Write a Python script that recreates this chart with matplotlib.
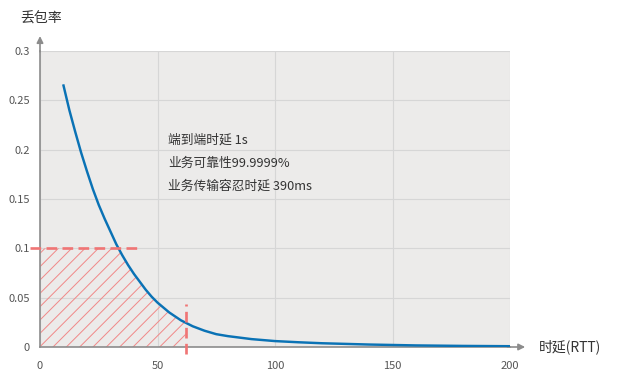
import numpy as np
import matplotlib
matplotlib.use('Agg')
import matplotlib.pyplot as plt

plt.rcParams['font.family'] = ['Noto Sans CJK SC', 'DejaVu Sans']
plt.rcParams['hatch.linewidth'] = 0.9
plt.rcParams['hatch.color'] = '#f08a8a'

# data
rtt = [10, 12.5, 15, 17.5, 20, 22.5, 25, 27.5, 30, 32.5, 35, 37.5, 40,
       42.5, 45, 47.5, 50, 55, 60, 65, 70, 75, 80, 90, 100, 110, 120,
       140, 160, 180, 200]
loss = [0.265, 0.240, 0.218, 0.197, 0.178, 0.160, 0.144, 0.130, 0.117,
        0.104, 0.093, 0.083, 0.074, 0.066, 0.058, 0.051, 0.045, 0.035,
        0.027, 0.021, 0.0165, 0.013, 0.011, 0.008, 0.006, 0.0048, 0.0038,
        0.0025, 0.0016, 0.0011, 0.0008]
x_ticks = [0, 50, 100, 150, 200]
y_ticks = [0, 0.05, 0.1, 0.15, 0.2, 0.25, 0.3]
y_tick_labels = ['0', '0.05', '0.1', '0.15', '0.2', '0.25', '0.3']
loss_limit = 0.1
rtt_limit = 62
notes = ['端到端时延 1s', '业务可靠性99.9999%', '业务传输容忍时延 390ms']

dpi = 80
fig = plt.figure(figsize=(625 / dpi, 382 / dpi), dpi=dpi)
ax = fig.add_axes([40 / 625, 35 / 382, 470 / 625, 296 / 382])
ax.set_facecolor('#ecebea')

ax.set_xlim(0, 200)
ax.set_ylim(0, 0.3)
ax.set_xticks(x_ticks)
ax.set_yticks(y_ticks)
ax.set_yticklabels(y_tick_labels)
ax.tick_params(length=0, labelsize=10, labelcolor='#555555')
ax.tick_params(axis='x', pad=13)
ax.tick_params(axis='y', pad=9)
ax.grid(True, color='#d6d6d6', lw=1)
ax.set_axisbelow(True)
for s in ['top', 'right']:
    ax.spines[s].set_visible(False)
for s in ['left', 'bottom']:
    ax.spines[s].set_color('#8c8c8c')
    ax.spines[s].set_linewidth(1.5)

# hatched acceptable region
xr = np.array(rtt, dtype=float)
yr = np.array(loss)
x_cross = np.interp(loss_limit, yr[::-1], xr[::-1])
mask = (xr > x_cross) & (xr < rtt_limit)
y_end = np.interp(rtt_limit, xr, yr)
poly_x = [0, 0, x_cross] + list(xr[mask]) + [rtt_limit, rtt_limit]
poly_y = [0, loss_limit, loss_limit] + list(yr[mask]) + [y_end, 0]
ax.fill(poly_x, poly_y, facecolor='none', edgecolor='#f08a8a', hatch='//', lw=0)

ax.plot(rtt, loss, color='#0a72b5', lw=2.2, zorder=4)

ax.plot([-4.3, 42], [loss_limit, loss_limit], color='#f07575', lw=2.4,
        dashes=(4, 2), clip_on=False, zorder=5)
ax.plot([rtt_limit, rtt_limit], [-0.007, 0.044], color='#f07575', lw=2.4,
        dashes=(4, 2), clip_on=False, zorder=5)

# axis arrows
arrow = dict(arrowstyle='-|>', color='#8c8c8c', lw=1.5, mutation_scale=12)
ax.annotate('', xy=(0, 1.058), xytext=(0, 0.99), xycoords='axes fraction',
            arrowprops=arrow)
ax.annotate('', xy=(1.037, 0), xytext=(0.99, 0), xycoords='axes fraction',
            arrowprops=arrow)

fig.text(41 / 625, 1 - 19 / 382, '丢包率', ha='center', va='center',
         fontsize=12.5, color='#333333')
fig.text(539 / 625, 1 - 347 / 382, '时延(RTT)', ha='left', va='center',
         fontsize=12.5, color='#333333')

for i, t in enumerate(notes):
    fig.text(168 / 625, 1 - (140 + 23 * i) / 382, t, ha='left', va='center',
             fontsize=11.5, color='#333333')

fig.savefig('out.png', dpi=dpi)
